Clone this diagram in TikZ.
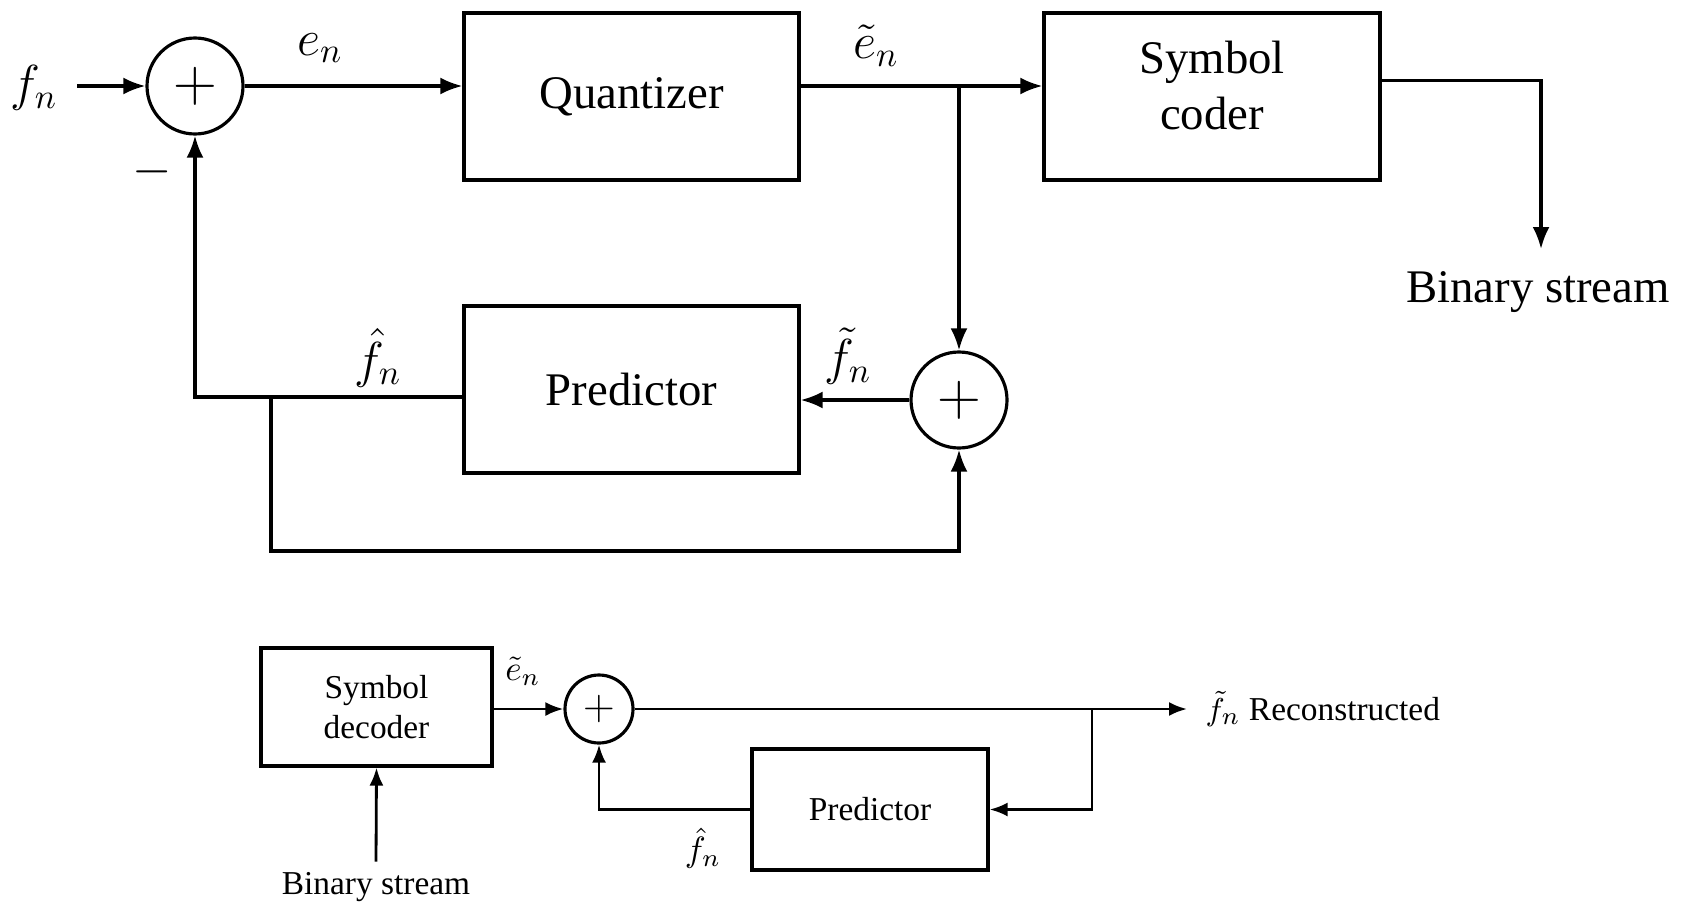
\documentclass[tikz,border=0pt]{standalone}
\usepackage{amsmath,amssymb}
\usepackage{fontspec}
\setmainfont{Liberation Serif}
\usepackage{tikz}
\usetikzlibrary{positioning, arrows.meta, calc}
\newcommand{\bigtxt}{\fontsize{13.3}{16}\selectfont}
\newcommand{\smalltxt}{\fontsize{9.5}{11.5}\selectfont}
\tikzset{
  blk/.style={draw, line width=0.9pt, align=center, inner sep=0pt},
  bigblk/.style={blk, font=\bigtxt, minimum width=3.35cm, minimum height=1.67cm},
  smallblk/.style={blk, font=\smalltxt},
  sum/.style={draw, circle, line width=0.9pt, inner sep=0pt},
  lbl/.style={inner sep=0pt, font=\fontsize{14}{14}\selectfont},
  slbl/.style={inner sep=0pt, font=\fontsize{10}{10}\selectfont},
  arr/.style={-{Latex[length=2.2mm,width=1.7mm]}, line width=0.9pt},
  arrs/.style={-{Latex[length=1.8mm,width=1.4mm]}, line width=0.8pt},
}

\begin{document}
\begin{tikzpicture}
  \useasboundingbox (0,0) rectangle (16.84,-9.01);

  % encoder
  \node[bigblk] (quant) at (6.315,-0.965) {Quantizer};
  \node[bigblk, minimum width=3.36cm] (coder) at (12.12,-0.965) {};
  \node[align=center, font=\bigtxt, inner sep=0pt] (codertxt) at ([yshift=1.1mm]coder.center) {Symbol\\coder};
  \node[bigblk] (predA) at (6.315,-3.895) {Predictor};
  \node[sum, minimum size=0.96cm] (sum1) at (1.95,-0.86) {\fontsize{18}{18}\selectfont$+$};
  \node[sum, minimum size=0.96cm] (sum2) at (9.59,-4.0) {\fontsize{18}{18}\selectfont$+$};

  \node[lbl] (fn) at (0.34,-0.88) {$f_n$};
  \node[lbl] (en) at (3.2,-0.48) {$e_n$};
  \node[lbl] (eq) at (8.76,-0.46) {$\tilde{e}_n$};
  \node[lbl] (fhat) at (3.78,-3.58) {$\hat{f}_n$};
  \node[lbl] (ftil) at (8.48,-3.56) {$\tilde{f}_n$};
  \node[lbl] (minus) at (1.52,-1.72) {$-$};
  \node[inner sep=0pt, font=\bigtxt] (binout) at (15.38,-2.92) {Binary stream};

  \coordinate (fin) at (0.77,-0.86);
  \coordinate (j1) at (9.59,-0.86);
  \coordinate (cout) at (15.41,-0.805);
  \coordinate (cend) at (15.41,-2.49);
  \coordinate (tap) at (2.71,-3.97);

  \draw[arr] (fin) -- (sum1.west);
  \draw[arr] (sum1.east) -- (sum1 -| quant.west);
  \draw[arr] (quant.east |- sum1) -- (j1) -- (coder.west |- sum1);
  \draw[arr] (j1) -- (sum2.north);
  \draw[arr] (coder.east |- cout) -- (cout) -- (cend);
  \draw[arr] (sum2.west) -- (sum2.west -| predA.east);
  \draw[arr] (predA.west |- tap) -| (sum1.south);
  \draw[arr] (tap) -- ++(0,-1.54) -| (sum2.south);

  % decoder
  \node[smallblk, minimum width=2.31cm, minimum height=1.18cm] (dec) at (3.765,-7.07) {Symbol\\decoder};
  \node[smallblk, minimum width=2.36cm, minimum height=1.21cm] (predB) at (8.70,-8.095) {Predictor};
  \node[sum, minimum size=0.68cm] (sum3) at (5.99,-7.09) {\fontsize{13}{13}\selectfont$+$};

  \node[inner sep=0pt, font=\smalltxt] (binin) at (3.76,-8.87) {Binary stream};
  \node[slbl] (eq2) at (5.23,-6.71) {$\tilde{e}_n$};
  \node[slbl] (fhat2) at (7.03,-8.48) {$\hat{f}_n$};
  \node[inner sep=0pt, anchor=west, font=\smalltxt] (rec) at (12.05,-7.09) {$\tilde{f}_n$ Reconstructed};

  \coordinate (j2) at (10.92,-7.09);
  \coordinate (rend) at (11.87,-7.09);

  \draw[arrs] ([yshift=1mm]binin.north) -- (dec.south);
  \draw[arrs] (dec.east |- sum3) -- (sum3.west);
  \draw[arrs] (sum3.east) -- (j2) -- (rend);
  \draw[arrs] (j2) |- (predB.east);
  \draw[arrs] (predB.west) -| (sum3.south);
\end{tikzpicture}
\end{document}
